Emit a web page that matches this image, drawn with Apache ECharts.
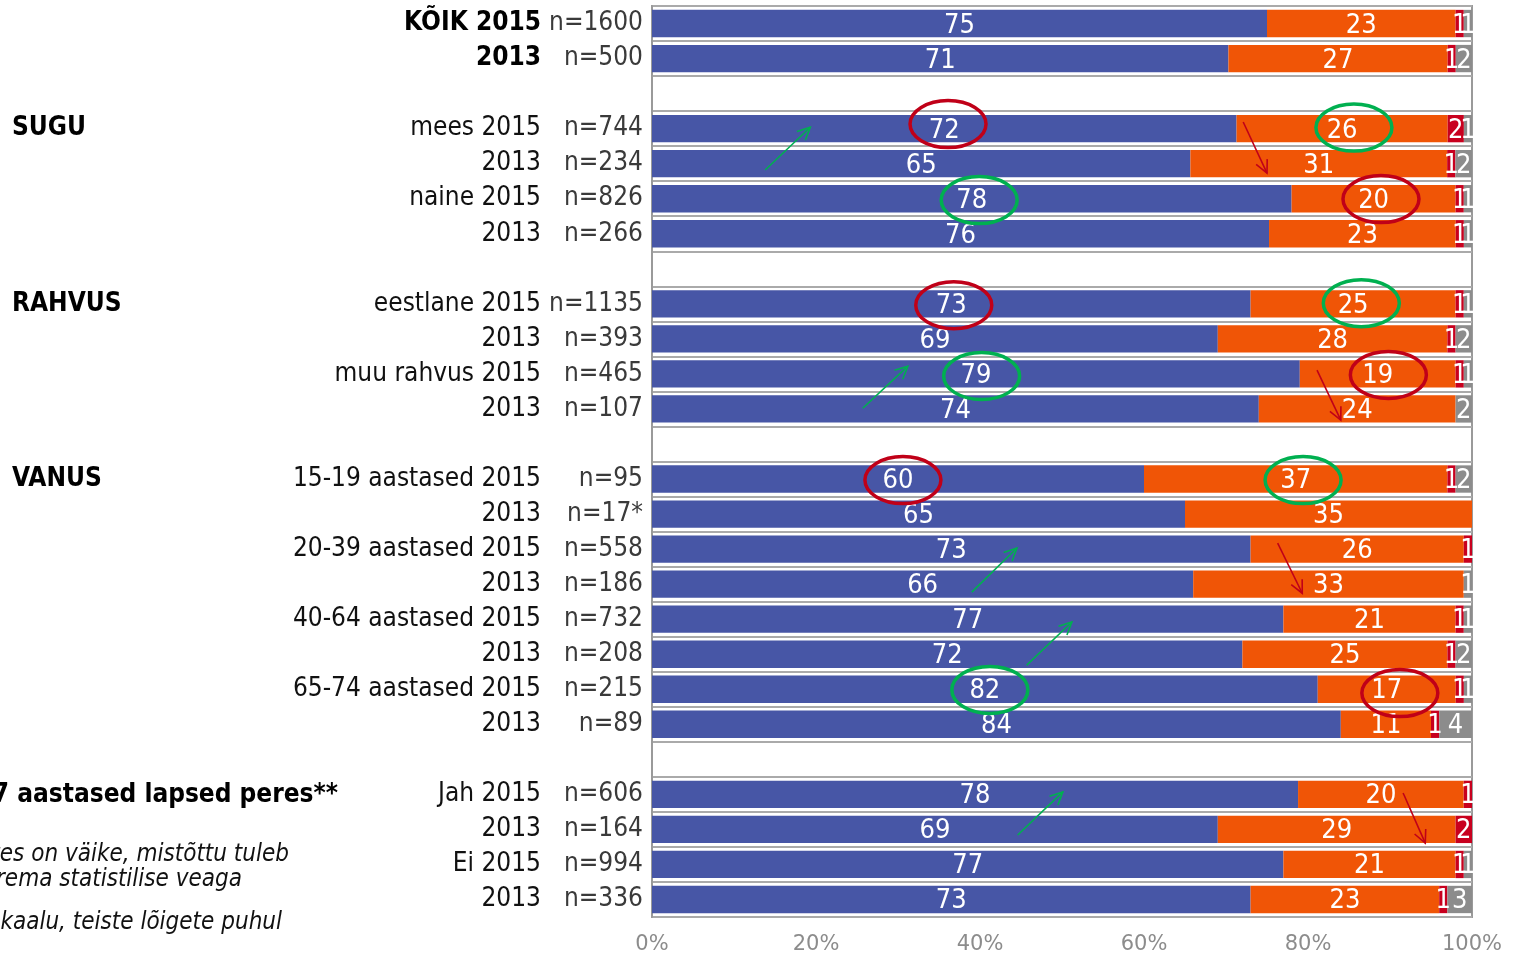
<!DOCTYPE html>
<html><head><meta charset="utf-8">
<script src="https://cdn.jsdelivr.net/npm/echarts@6/dist/echarts.min.js"></script>
<style>html,body{margin:0;padding:0;background:#fff;overflow:hidden}#c{width:1518px;height:957px}</style>
</head><body><div id="c"></div>
<script>
// ---- data ----
const rowLabels = ['KÕIK 2015','2013','','mees 2015','2013','naine 2015','2013','','eestlane 2015','2013','muu rahvus 2015','2013','','15-19 aastased 2015','2013','20-39 aastased 2015','2013','40-64 aastased 2015','2013','65-74 aastased 2015','2013','','Jah 2015','2013','Ei 2015','2013'];
const nLabels = ['n=1600','n=500','','n=744','n=234','n=826','n=266','','n=1135','n=393','n=465','n=107','','n=95','n=17*','n=558','n=186','n=732','n=208','n=215','n=89','','n=606','n=164','n=994','n=336'];
const boldRows = [0, 1];
const blueVals   = [75,71,null,72,65,78,76,null,73,69,79,74,null,60,65,73,66,77,72,82,84,null,78,69,77,73];
const orangeVals = [23,27,null,26,31,20,23,null,25,28,19,24,null,37,35,26,33,21,25,17,11,null,20,29,21,23];
const redVals    = [1,1,null,2,1,1,1,null,1,1,1,0,null,1,0,1,0,1,1,1,1,null,1,2,1,1];
const greyVals   = [1,2,null,1,2,1,1,null,1,2,1,2,null,2,0,0,1,1,2,1,4,null,0,0,1,3];
const xTicks = [0,20,40,60,80,100];
const groupLabels = [['SUGU',3],['RAHVUS',8],['VANUS',13]];
const clippedGroupLabel = ['0–17 aastased lapsed peres**', 22];
const footnotes = ['*Vastajate arv 2013. aasta lõigetes on väike, mistõttu tuleb','tulemusi tõlgendada suurema statistilise veaga','**Selle lõike puhul on kasutatud perekaalu, teiste lõigete puhul'];
// annotations in data space: [x %, row index]
const ellipses = [
  [36.1,2.87,'red'],[85.6,2.97,'green'],[39.9,5.04,'green'],[88.9,5.01,'red'],
  [36.8,8.04,'red'],[86.5,7.98,'green'],[40.2,10.06,'green'],[89.8,10.03,'red'],
  [30.6,13.03,'red'],[79.4,13.03,'green'],[41.2,19.02,'green'],[91.2,19.11,'red']
];
const arrows = [
  [13.8,4.18,19.3,2.96,'green'],[25.7,10.98,31.2,9.78,'green'],[39.0,16.23,44.5,14.97,'green'],
  [45.7,18.31,51.2,17.08,'green'],[44.6,23.16,50.1,21.93,'green'],
  [72.1,2.81,75.0,4.27,'red'],[81.1,9.89,84.0,11.32,'red'],[76.3,14.83,79.3,16.26,'red'],[91.6,21.96,94.3,23.39,'red']
];

// ---- font detection ----
const cv = document.createElement('canvas').getContext('2d');
cv.font = '40px "DejaVu Sans Condensed", "DejaVu Sans"'; const wc = cv.measureText('mmmm 2015').width;
cv.font = '40px "DejaVu Sans"'; const wn = cv.measureText('mmmm 2015').width;
const COND = wc < wn * 0.96;
const FF = COND ? 'DejaVu Sans Condensed, DejaVu Sans' : 'DejaVu Sans';
const k = COND ? 1 : 0.9;
const fsBar = Math.round(27 * k), fsLeft = Math.round(26 * k), fsGroup = Math.round(26 * k), fsFoot = 24 * k;

const COLORS = {blue:'#4756A6', orange:'#F05506', red:'#C8001E', grey:'#8C8C8C'};
const STROKE = {red:'#C00018', green:'#00B050'};

const raw = [blueVals, orangeVals, redVals, greyVals];
const totals = rowLabels.map((_, i) => raw.reduce((s, a) => s + (a[i] || 0), 0));
function pct(arr) { return arr.map((v, i) => v == null ? null : v / totals[i] * 100); }

const chart = echarts.init(document.getElementById('c'), null, {renderer: 'canvas'});
const names = ['blue','orange','red','grey'];
const series = raw.map((arr, si) => ({
  type: 'bar', stack: 'all', barWidth: '78%',
  data: pct(arr),
  itemStyle: {color: COLORS[names[si]]},
  label: {
    show: true, position: 'inside', offset: [0, 2], color: '#fff', fontSize: fsBar, fontFamily: FF,
    textBorderWidth: 0, textShadowBlur: 0,
    formatter: p => { const v = arr[p.dataIndex]; return v ? String(v) : ''; }
  },
  emphasis: {disabled: true}, animation: false
}));

chart.setOption({
  animation: false,
  grid: {left: 652, right: 46, top: 6, bottom: 40, show: true, borderColor: '#9a9a9a', borderWidth: 2, containLabel: false},
  xAxis: {
    type: 'value', min: 0, max: 100, interval: 20,
    axisLine: {show: false}, axisTick: {show: false}, splitLine: {show: false},
    axisLabel: {formatter: '{value}%', color: '#8c8c8c', fontSize: 21, fontFamily: 'DejaVu Sans', margin: 17}
  },
  yAxis: {
    type: 'category', inverse: true, data: rowLabels,
    axisLine: {show: true, lineStyle: {color: '#9a9a9a', width: 2}}, axisTick: {show: false},
    splitLine: {show: true, interval: 0, lineStyle: {color: '#aaaaaa', width: 2}},
    axisLabel: {
      interval: 0, margin: 9, fontFamily: FF,
      formatter: (v, i) => {
        if (!rowLabels[i]) return '';
        const st = boldRows.includes(i) ? 'b' : 'a';
        return '{' + st + '|' + rowLabels[i] + '}{n|' + nLabels[i] + '}';
      },
      rich: {
        a: {fontSize: fsLeft, color: '#111', fontFamily: FF},
        b: {fontSize: fsLeft, color: '#000', fontWeight: 'bold', fontFamily: FF},
        n: {fontSize: fsLeft, color: '#3a3a3a', fontFamily: FF, width: 102, align: 'right'}
      }
    }
  },
  series: series
});

// ---- annotations & extra texts ----
const y0 = chart.convertToPixel({yAxisIndex: 0}, 0);
const y1 = chart.convertToPixel({yAxisIndex: 0}, 1);
const step = y1 - y0;
function P(x, r) { return [chart.convertToPixel({xAxisIndex: 0}, x), y0 + r * step]; }

const g = [];
groupLabels.forEach(([t, r]) => {
  g.push({type: 'text', x: 12, y: P(0, r)[1], silent: true, z: 100,
    style: {text: t, font: 'bold ' + fsGroup + 'px ' + FF, fill: '#000', verticalAlign: 'middle'}});
});
g.push({type: 'text', x: 338, y: P(0, clippedGroupLabel[1])[1] + 1, silent: true, z: 100,
  style: {text: clippedGroupLabel[0], font: 'bold ' + fsGroup + 'px ' + FF, fill: '#000', align: 'right', verticalAlign: 'middle'}});
const footY = [855, 880, 923], footX = [289, 242, 282];
footnotes.forEach((t, i) => {
  g.push({type: 'text', x: footX[i], y: footY[i], silent: true, z: 100,
    style: {text: t, font: 'italic ' + fsFoot + 'px ' + FF, fill: '#111', align: 'right', verticalAlign: 'middle'}});
});
ellipses.forEach(([x, r, c]) => {
  const [cx, cy] = P(x, r);
  g.push({type: 'ellipse', silent: true, z: 100, shape: {cx, cy, rx: 38, ry: 23.5},
    style: {fill: 'none', stroke: STROKE[c], lineWidth: 3.5}});
});
arrows.forEach(([xa, ra, xb, rb, c]) => {
  const [ax, ay] = P(xa, ra), [bx, by] = P(xb, rb);
  const ang = Math.atan2(by - ay, bx - ax), L = 14, h = 0.45;
  const p1 = [bx - L * Math.cos(ang - h), by - L * Math.sin(ang - h)];
  const p2 = [bx - L * Math.cos(ang + h), by - L * Math.sin(ang + h)];
  g.push({type: 'polyline', silent: true, z: 100, shape: {points: [[ax, ay], [bx, by]]}, style: {stroke: STROKE[c], lineWidth: 1.6, fill: 'none'}});
  g.push({type: 'polyline', silent: true, z: 100, shape: {points: [p1, [bx, by], p2]}, style: {stroke: STROKE[c], lineWidth: 1.6, fill: 'none'}});
});
chart.setOption({graphic: g});
</script></body></html>
